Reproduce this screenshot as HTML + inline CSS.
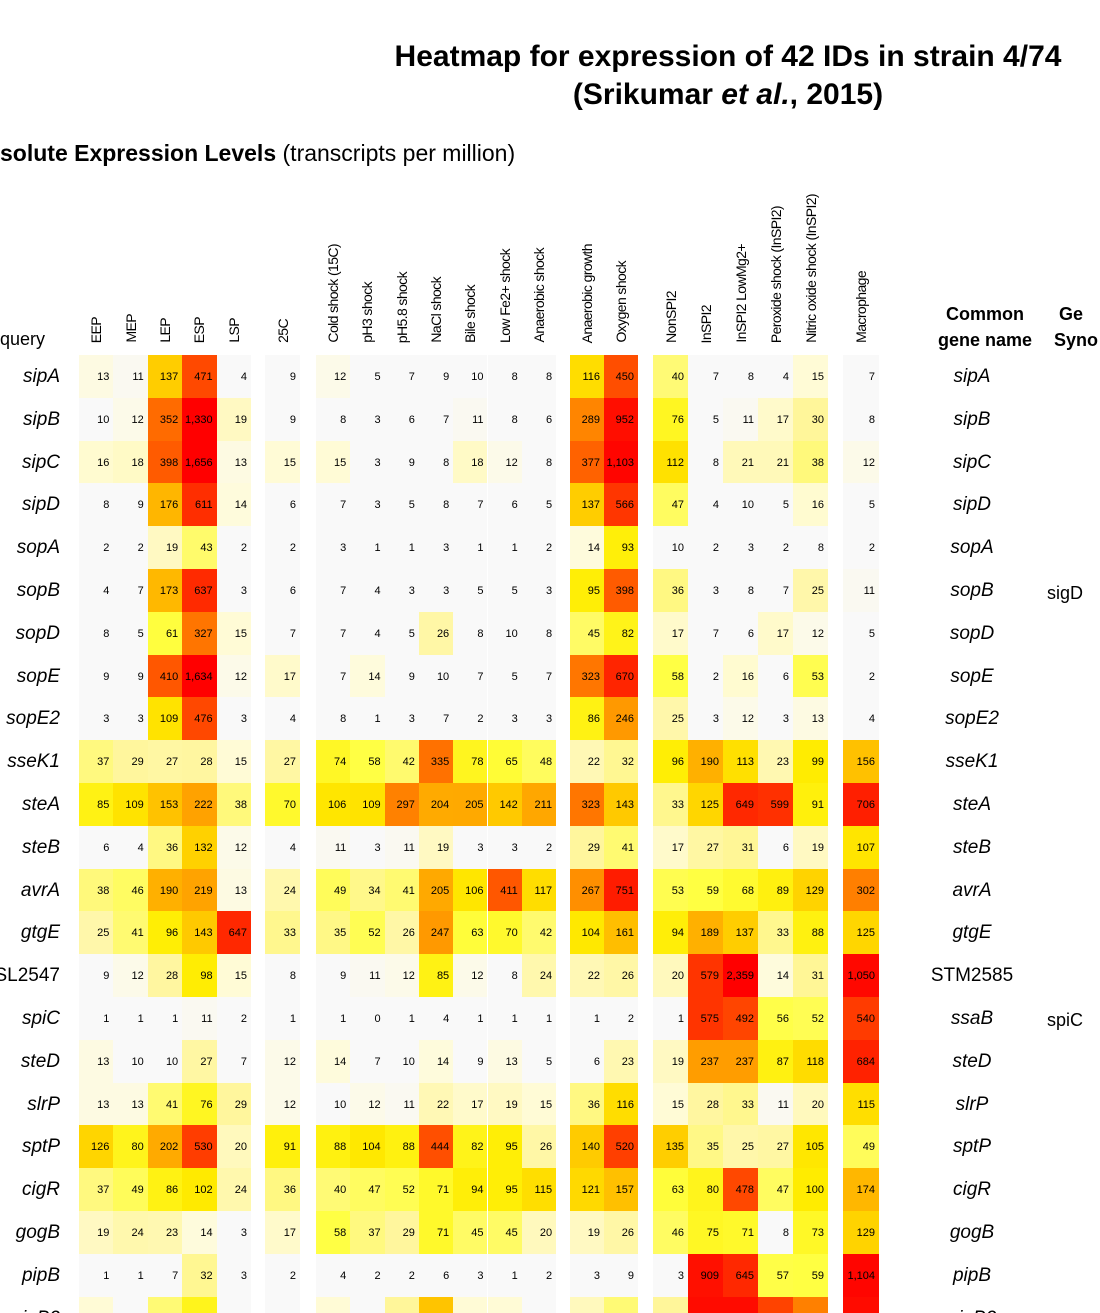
<!DOCTYPE html>
<html><head><meta charset="utf-8">
<style>
body{margin:0;background:#fff;}
#wrap{position:relative;width:1100px;height:1313px;overflow:hidden;background:#fff;font-family:"Liberation Sans",sans-serif;color:#000;}
.t{position:absolute;white-space:nowrap;}
.cell{position:absolute;font-size:11px;text-align:right;box-sizing:border-box;padding-right:4px;}
.hd{position:absolute;font-size:14px;writing-mode:vertical-rl;transform:rotate(180deg);white-space:nowrap;letter-spacing:-0.6px;}
.rl{position:absolute;right:1040px;font-size:19px;font-style:italic;text-align:right;white-space:nowrap;}
.cn{position:absolute;left:900px;width:144px;font-size:19px;font-style:italic;text-align:center;white-space:nowrap;}
</style></head><body>
<div id="wrap">
<div class="t" style="left:0;width:1456px;top:40px;text-align:center;font-size:30px;font-weight:bold;">Heatmap for expression of 42 IDs in strain 4/74</div>
<div class="t" style="left:0;width:1456px;top:78px;text-align:center;font-size:30px;font-weight:bold;">(Srikumar <i>et al.</i>, 2015)</div>
<div class="t" style="left:0;top:140px;font-size:23px;"><b>solute Expression Levels</b> (transcripts per million)</div>
<div class="t" style="left:0;top:329px;font-size:18px;">query</div>
<div class="t" style="left:915px;top:301px;width:140px;text-align:center;font-size:18px;font-weight:bold;line-height:26px;">Common<br>gene name</div>
<div class="t" style="left:1054px;top:301px;font-size:18px;font-weight:bold;line-height:26px;">&nbsp;Ge<br>Syno</div>
<div class="t" style="left:1047px;top:583px;font-size:18px;">sigD</div>
<div class="t" style="left:1047px;top:1010px;font-size:18px;">spiC</div>
<div id="grid"></div>
</div>
<script>
(function(){
var cols=[];
for(var i=0;i<5;i++)cols.push([79+i*34.4,34.4]);
cols.push([265,35]);
for(var i=0;i<7;i++)cols.push([316+i*34.3,34.3]);
cols.push([570,34]);cols.push([604,34]);
for(var i=0;i<5;i++)cols.push([653+i*35,35]);
cols.push([843,36]);
var heads=["EEP","MEP","LEP","ESP","LSP","25C","Cold shock (15C)","pH3 shock","pH5.8 shock","NaCl shock","Bile shock","Low Fe2+ shock","Anaerobic shock","Anaerobic growth","Oxygen shock","NonSPI2","InSPI2","InSPI2 LowMg2+","Peroxide shock (InSPI2)","Nitric oxide shock (InSPI2)","Macrophage"];
var rows=[
["sipA","sipA","13 11 137 471 4 9 12 5 7 9 10 8 8 116 450 40 7 8 4 15 7"],
["sipB","sipB","10 12 352 1,330 19 9 8 3 6 7 11 8 6 289 952 76 5 11 17 30 8"],
["sipC","sipC","16 18 398 1,656 13 15 15 3 9 8 18 12 8 377 1,103 112 8 21 21 38 12"],
["sipD","sipD","8 9 176 611 14 6 7 3 5 8 7 6 5 137 566 47 4 10 5 16 5"],
["sopA","sopA","2 2 19 43 2 2 3 1 1 3 1 1 2 14 93 10 2 3 2 8 2"],
["sopB","sopB","4 7 173 637 3 6 7 4 3 3 5 5 3 95 398 36 3 8 7 25 11"],
["sopD","sopD","8 5 61 327 15 7 7 4 5 26 8 10 8 45 82 17 7 6 17 12 5"],
["sopE","sopE","9 9 410 1,634 12 17 7 14 9 10 7 5 7 323 670 58 2 16 6 53 2"],
["sopE2","sopE2","3 3 109 476 3 4 8 1 3 7 2 3 3 86 246 25 3 12 3 13 4"],
["sseK1","sseK1","37 29 27 28 15 27 74 58 42 335 78 65 48 22 32 96 190 113 23 99 156"],
["steA","steA","85 109 153 222 38 70 106 109 297 204 205 142 211 323 143 33 125 649 599 91 706"],
["steB","steB","6 4 36 132 12 4 11 3 11 19 3 3 2 29 41 17 27 31 6 19 107"],
["avrA","avrA","38 46 190 219 13 24 49 34 41 205 106 411 117 267 751 53 59 68 89 129 302"],
["gtgE","gtgE","25 41 96 143 647 33 35 52 26 247 63 70 42 104 161 94 189 137 33 88 125"],
["SL2547","STM2585","9 12 28 98 15 8 9 11 12 85 12 8 24 22 26 20 579 2,359 14 31 1,050"],
["spiC","ssaB","1 1 1 11 2 1 1 0 1 4 1 1 1 1 2 1 575 492 56 52 540"],
["steD","steD","13 10 10 27 7 12 14 7 10 14 9 13 5 6 23 19 237 237 87 118 684"],
["slrP","slrP","13 13 41 76 29 12 10 12 11 22 17 19 15 36 116 15 28 33 11 20 115"],
["sptP","sptP","126 80 202 530 20 91 88 104 88 444 82 95 26 140 520 135 35 25 27 105 49"],
["cigR","cigR","37 49 86 102 24 36 40 47 52 71 94 95 115 121 157 63 80 478 47 100 174"],
["gogB","gogB","19 24 23 14 3 17 58 37 29 71 45 45 20 19 26 46 75 71 8 73 129"],
["pipB","pipB","1 1 7 32 3 2 4 2 2 6 3 1 2 3 9 3 909 645 57 59 1,104"],
["pipB2","pipB2","15 5 40 80 5 5 15 5 30 150 15 15 10 20 40 30 1000 1000 500 300 1000"]
];
var stops=[[10,[249,249,249]],[15,[255,251,214]],[30,[255,246,154]],[60,[255,255,64]],[100,[255,236,0]],[150,[255,196,0]],[250,[255,152,0]],[400,[255,90,0]],[700,[255,32,0]],[1200,[255,0,0]]];
function col(v){
 if(v<=10)return "rgb(249,249,249)";
 if(v>=1200)return "rgb(255,0,0)";
 for(var i=1;i<stops.length;i++){if(v<=stops[i][0]){var a=stops[i-1],b=stops[i];var t=(Math.log(v)-Math.log(a[0]))/(Math.log(b[0])-Math.log(a[0]));var c=a[1].map(function(x,k){return Math.round(x+(b[1][k]-x)*t);});return "rgb("+c.join(",")+")";}}
}
var g=document.getElementById("grid"),h="";
for(var j=0;j<heads.length;j++){var c=cols[j];h+='<div class="hd" style="left:'+(c[0]+c[1]/2-8)+'px;bottom:'+(1313-343)+'px;">'+heads[j]+'</div>';}
for(var r=0;r<rows.length;r++){
 var ty=355+r*42.8,vals=rows[r][2].split(" ");
 var it=(rows[r][0]=="SL2547")?"font-style:normal;":"";
 h+='<div class="rl" style="top:'+(ty+11)+'px;'+it+'">'+rows[r][0]+'</div>';
 var it2=(rows[r][1]=="STM2585")?"font-style:normal;":"";
 h+='<div class="cn" style="top:'+(ty+11)+'px;'+it2+'">'+rows[r][1]+'</div>';
 for(var j=0;j<vals.length;j++){
  var v=parseFloat(vals[j].replace(/,/g,"")),c=cols[j];
  var txt=(r<22)?vals[j]:"";
  h+='<div class="cell" style="left:'+c[0]+'px;top:'+ty+'px;width:'+c[1]+'px;height:42.8px;line-height:44px;background:'+col(v)+';">'+txt+'</div>';
 }
}
g.innerHTML=h;
})();
</script>
</body></html>
